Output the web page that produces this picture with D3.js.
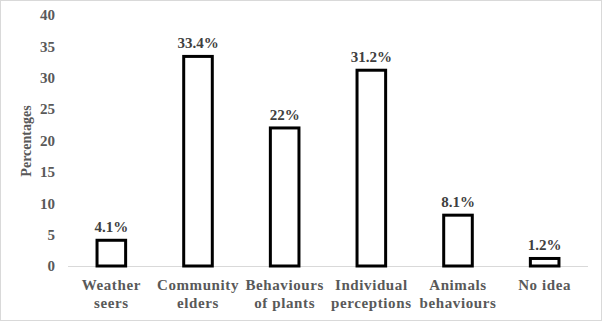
<!DOCTYPE html>
<html><head><meta charset="utf-8">
<script src="https://cdn.jsdelivr.net/npm/d3@7"></script>
<style>body{margin:0;background:#fff}svg{display:block}text{font-family:"Liberation Serif","Times New Roman",Times,serif;font-weight:bold}</style>
</head><body>
<script>
const categories = [["Weather","seers"],["Community","elders"],["Behaviours","of plants"],["Individual","perceptions"],["Animals","behaviours"],["No idea"]];
const values = [4.1, 33.4, 22, 31.2, 8.1, 1.2];
const valueLabels = ["4.1%","33.4%","22%","31.2%","8.1%","1.2%"];
const yTicks = [0,5,10,15,20,25,30,35,40];

const W=603,H=322;
const svg=d3.select("body").append("svg").attr("width",W).attr("height",H);
svg.append("rect").attr("x",0.5).attr("y",0.5).attr("width",W-2).attr("height",H-2)
  .attr("fill","#fff").attr("stroke","#d9d9d9");

const x=d3.scaleBand().domain(d3.range(values.length)).range([68,588]).paddingInner(0.67).paddingOuter(0.335);
const y=d3.scaleLinear().domain([0,40]).range([266,15]);

// y tick labels
svg.append("g").selectAll("text").data(yTicks).join("text")
  .attr("x",55).attr("y",d=>y(d)).attr("dy","0.35em").attr("text-anchor","end")
  .attr("font-size",15).attr("fill","#595959")
  .text(d=>d);
// axis line
svg.append("line").attr("x1",68).attr("x2",588).attr("y1",266.5).attr("y2",266.5).attr("stroke","#d9d9d9").attr("stroke-width",1);
// y label
svg.append("text").attr("transform","translate(31,141) rotate(-90)").attr("text-anchor","middle")
  .attr("font-size",14).attr("fill","#595959").text("Percentages");
// bars
svg.append("g").selectAll("rect").data(values).join("rect")
  .attr("x",(d,i)=>x(i)).attr("width",x.bandwidth()).attr("y",d=>y(d)).attr("height",d=>y(0)-y(d))
  .attr("fill","#fff").attr("stroke","#000").attr("stroke-width",3);
// value labels
svg.append("g").selectAll("text").data(values).join("text")
  .attr("x",(d,i)=>x(i)+x.bandwidth()/2).attr("y",d=>y(d)-8).attr("text-anchor","middle")
  .attr("font-size",15).attr("fill","#404040")
  .text((d,i)=>valueLabels[i]);
// category labels
const cg=svg.append("g").selectAll("text").data(categories).join("text")
  .attr("x",(d,i)=>x(i)+x.bandwidth()/2).attr("y",290).attr("text-anchor","middle")
  .attr("font-size",15).attr("fill","#595959").attr("letter-spacing",0.6);
cg.selectAll("tspan").data(d=>d).join("tspan")
  .attr("x",function(){return this.parentNode.getAttribute("x");}).attr("dy",(d,i)=>i?18:0).text(d=>d);
</script>
</body></html>
